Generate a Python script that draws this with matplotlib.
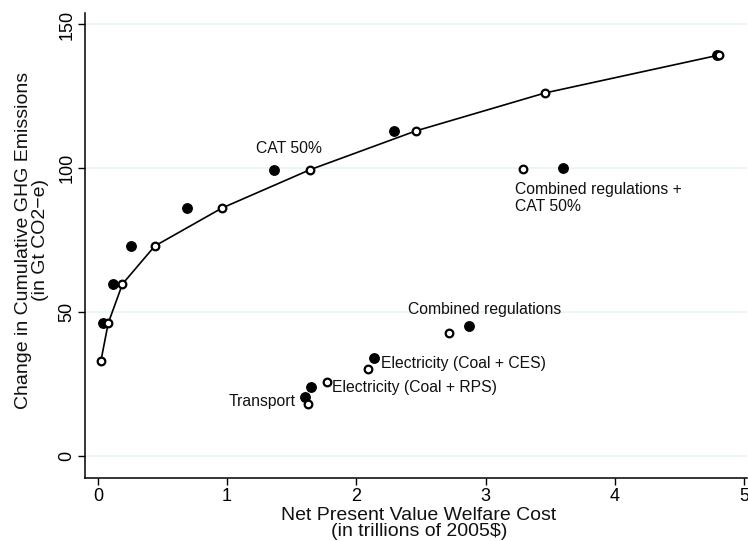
import matplotlib
matplotlib.use("Agg")
import matplotlib.pyplot as plt

plt.rcParams['font.family'] = ['Liberation Sans', 'DejaVu Sans']

# CAT-only frontier (open circles, joined by the line)
cat_cost = [0.023, 0.08, 0.19, 0.44, 0.96, 1.64, 2.46, 3.46, 4.81]
cat_ghg = [33.0, 46.2, 59.8, 73.0, 86.2, 99.5, 113.0, 126.2, 139.4]

# CAT with regulations (filled circles)
catreg_cost = [0.04, 0.12, 0.26, 0.69, 1.36, 2.29, 4.79]
catreg_ghg = [46.2, 59.8, 73.0, 86.2, 99.5, 113.0, 139.4]

# policy scenarios: open / filled pairs
open_cost = [1.63, 1.77, 2.09, 2.72, 3.29]
open_ghg = [18.1, 25.7, 30.3, 42.8, 99.8]
fill_cost = [1.60, 1.65, 2.14, 2.87, 3.60]
fill_ghg = [20.5, 24.0, 34.1, 45.2, 100.1]

labels = ["CAT 50%", "Combined regulations +\nCAT 50%", "Combined regulations",
          "Electricity (Coal + CES)", "Electricity (Coal + RPS)", "Transport"]
label_x = [1.22, 3.23, 2.40, 2.19, 1.81, 1.53]
label_y = [107.0, 89.8, 50.8, 32.3, 24.0, 19.1]
label_ha = ["left", "left", "left", "left", "left", "right"]

fig = plt.figure(figsize=(7.48, 5.41), dpi=100)
ax = fig.add_axes([0.1136, 0.1165, 0.8844, 0.8595])

for yv in [0, 50, 100, 150]:
    ax.axhline(yv, color='#eaf2f3', lw=1.2, zorder=0)

ax.plot(cat_cost, cat_ghg, color='black', lw=1.2, zorder=2)
ax.plot(catreg_cost, catreg_ghg, 'o', color='black', ms=6.8, zorder=3)
ax.plot(fill_cost, fill_ghg, 'o', color='black', ms=6.8, zorder=3)
ax.plot(cat_cost, cat_ghg, 'o', mfc='white', mec='black', mew=1.6, ms=5.5, zorder=4)
ax.plot(open_cost, open_ghg, 'o', mfc='white', mec='black', mew=1.6, ms=5.5, zorder=4)

for t, x, y, ha in zip(labels, label_x, label_y, label_ha):
    ax.text(x, y, t, ha=ha, va='center', fontsize=11.3, color='#111111')

ax.set_xlim(-0.1, 5.02)
ax.set_ylim(-7.6, 154)
ax.set_xticks([0, 1, 2, 3, 4, 5])
ax.set_yticks([0, 50, 100, 150])
ax.set_yticklabels(['0', '50', '100', '150'], rotation=90, va='center')
ax.tick_params(labelsize=13, length=5, width=1, colors='black', pad=2)
for s in ['top', 'right']:
    ax.spines[s].set_visible(False)
for s in ['left', 'bottom']:
    ax.spines[s].set_linewidth(1.1)

fig.text(419 / 748, 1 - 523.5 / 541, "Net Present Value Welfare Cost\n(in trillions of 2005$)",
         ha='center', va='center', multialignment='center', fontsize=14, linespacing=0.95,
         color='#111111')
fig.text(32 / 748, 1 - 240 / 541, "Change in Cumulative GHG Emissions\n(in Gt CO2\u2212e)",
         ha='center', va='center', multialignment='center', rotation=90, fontsize=14,
         linespacing=0.95, color='#111111')

fig.savefig("out.png", dpi=100, facecolor='white')
